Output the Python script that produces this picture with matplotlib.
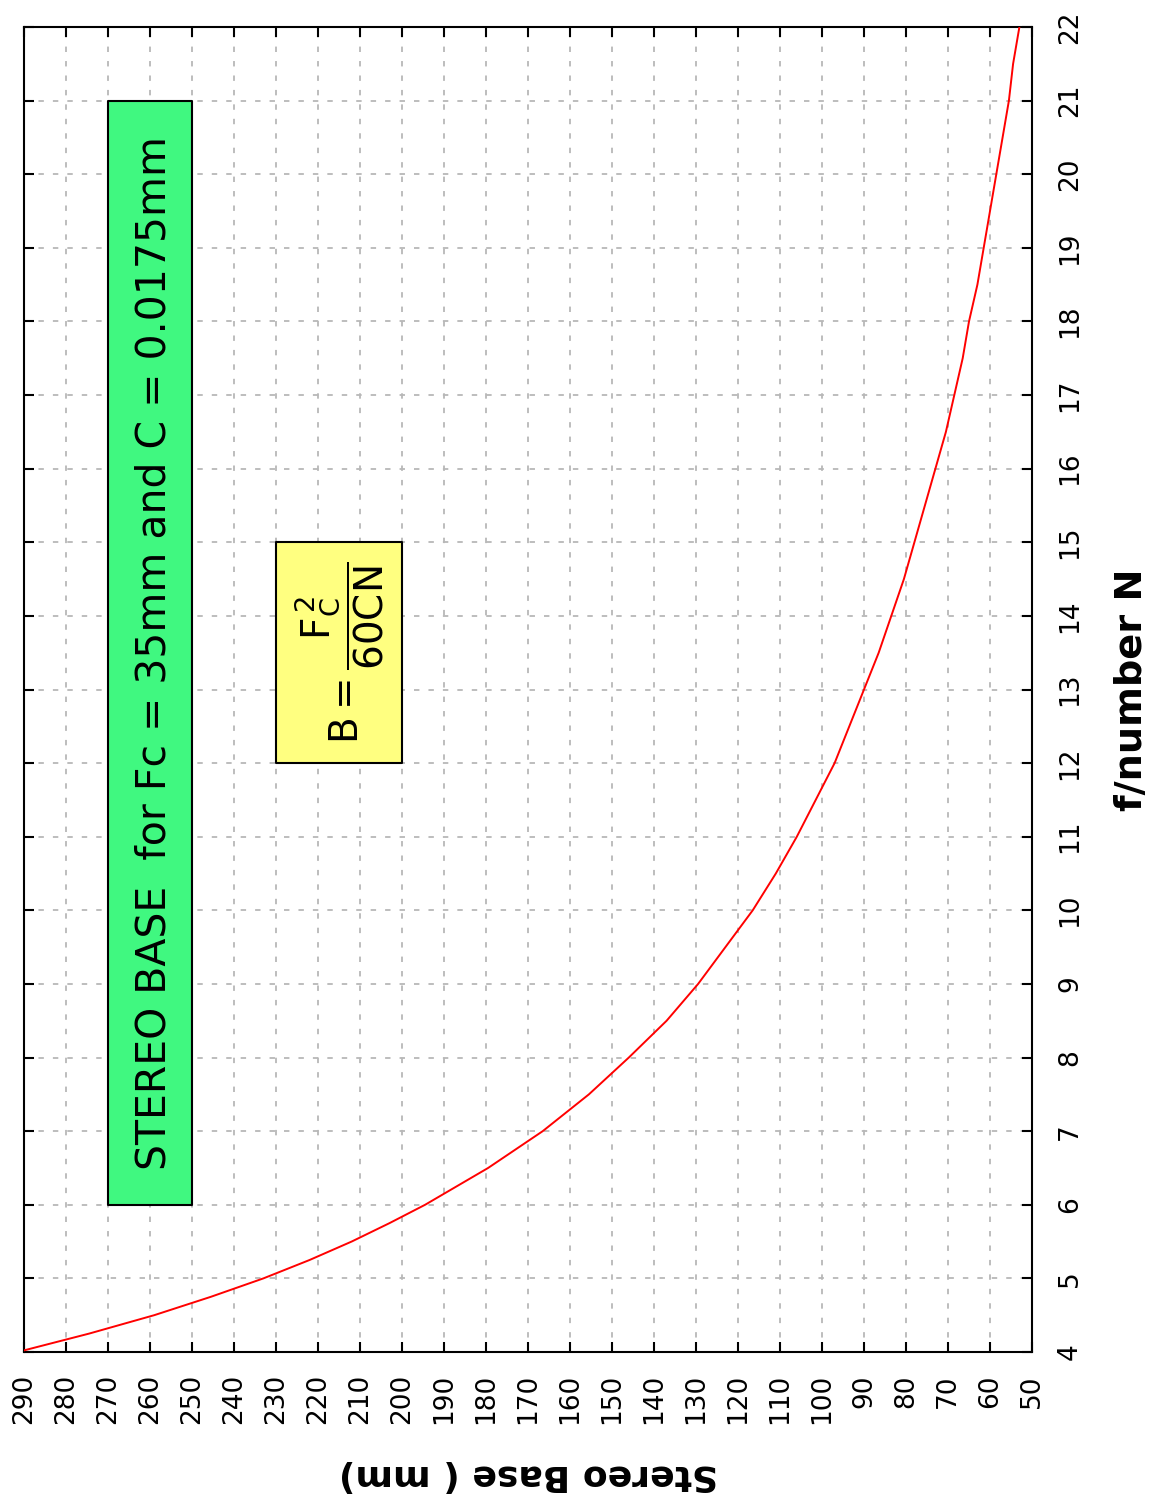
import matplotlib
matplotlib.use("Agg")
import matplotlib.pyplot as plt

# Data (f/number N vs Stereo Base B in mm)
f_number = [4, 4.25, 4.5, 4.75, 5, 5.25, 5.5, 5.75, 6, 6.5, 7, 7.5, 8, 8.5, 9,
            9.5, 10, 10.5, 11, 11.5, 12, 12.5, 13, 13.5, 14, 14.5, 15, 15.5,
            16, 16.5, 17, 17.5, 18, 18.5, 19, 19.5, 20, 20.5, 21, 21.5, 22]
stereo_base = [291.5, 274.5, 259, 245.5, 233, 222, 212, 203, 194.5, 179.5, 166.5,
               155.5, 146, 137, 129.5, 123, 116.5, 111, 106, 101.5, 97, 93.5,
               90, 86.5, 83.5, 80.5, 78, 75.5, 73, 70.5, 68.5, 66.5, 65, 63,
               61.5, 60, 58.5, 57, 55.5, 54.5, 53]
base_ticks = list(range(50, 300, 10))
n_ticks = list(range(4, 23))
title_text = "STEREO BASE  for Fc = 35mm and C = 0.0175mm"
formula_text = r"$\mathrm{B = \dfrac{F_C^{\,2}}{60CN}}$"
xlabel_text = "Stereo Base ( mm)"
ylabel_text = "f/number N"

fig = plt.figure(figsize=(11.59, 15.06), dpi=100)
ax = fig.add_axes([24/1159, 1 - 1352/1506, (1032-24)/1159, (1352-27)/1506])

ax.plot(stereo_base, f_number, color="red", lw=1.4, zorder=3)
ax.set_xlim(290, 50)
ax.set_ylim(4, 22)
ax.set_xticks(base_ticks)
ax.set_yticks(n_ticks)
ax.set_xticklabels([str(t) for t in base_ticks], rotation=90, fontsize=19,
                   family="DejaVu Sans")
ax.set_yticklabels([str(t) for t in n_ticks], rotation=90, fontsize=19,
                   va="center", family="DejaVu Sans")
ax.yaxis.tick_right()
ax.tick_params(axis="both", direction="in", length=7, width=1.5,
               top=True, bottom=True, left=True, right=True,
               labelleft=False, labelright=True, labeltop=False, labelbottom=True)
ax.tick_params(axis="x", pad=16)
ax.tick_params(axis="y", pad=18)
ax.grid(True, color="#b8b8b8", linestyle=(0, (3, 5)), lw=1.3)
for s in ax.spines.values():
    s.set_linewidth(1.5)

# Green title box
ax.fill_between([270, 250], 6, 21, facecolor="#40f880", edgecolor="black",
                lw=1.5, zorder=4)
ax.text(259, 13.5, title_text, rotation=90, ha="center", va="center",
        fontsize=29.5, zorder=5)
# Yellow formula box
ax.fill_between([230, 200], 12, 15, facecolor="#ffff80", edgecolor="black",
                lw=1.5, zorder=4)
ax.text(215, 13.5, formula_text, rotation=90, ha="center", va="center",
        fontsize=28, zorder=5)

ax.set_xlabel(xlabel_text, rotation=180, fontsize=26, fontweight="bold",
              labelpad=24)
ax.yaxis.set_label_position("right")
ax.set_ylabel(ylabel_text, rotation=90, fontsize=27.5, fontweight="bold",
              labelpad=22)

fig.savefig("out.png", dpi=100)
